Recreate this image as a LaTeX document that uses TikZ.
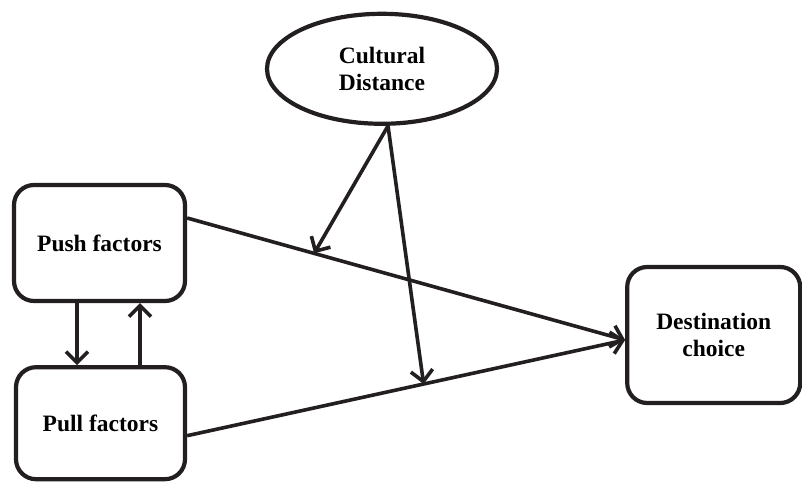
\documentclass[tikz,border=0pt]{standalone}
\usepackage{fontspec}
\setmainfont{Liberation Serif}
\usepackage{tikz}
\usetikzlibrary{arrows.meta,positioning,shapes.geometric}
\definecolor{Ink}{RGB}{35,31,32}
\tikzset{
  factorbox/.style={draw=Ink,line width=4.2pt,rounded corners=20pt,fill=white,align=center,font=\fontsize{23.5}{27}\selectfont\bfseries},
  moderator/.style={factorbox,ellipse,rounded corners=0pt},
  link/.style={-{Straight Barb[length=11pt,width=22pt]},line width=3.6pt,draw=Ink}
}
\begin{document}
\begin{tikzpicture}[node distance=62pt]
\useasboundingbox (0,0) rectangle (802pt,482pt);
\node[factorbox,minimum width=171pt,minimum height=116pt] (push) at (99.5pt,239pt) {Push factors};
\node[factorbox,minimum width=169pt,minimum height=112pt,below=62pt of push,xshift=1pt] (pull) {Pull factors};
\node[factorbox,minimum width=173pt,minimum height=136pt,right=438pt of push,yshift=-92pt] (dest) {Destination\\choice};
\node[moderator,minimum width=230pt,minimum height=110pt,above=57pt of push,xshift=282.5pt] (cd) {Cultural\\Distance};
\draw[link] ([yshift=25pt]push.east) -- coordinate[pos=0.29] (m1) ([yshift=-5pt]dest.west);
\draw[link] ([yshift=-12.5pt]pull.east) -- coordinate[pos=0.54] (m2) ([yshift=-5pt]dest.west);
\draw[link] ([xshift=6pt]cd.south) -- (m1);
\draw[link] ([xshift=6pt]cd.south) -- (m2);
\draw[link] ([xshift=-22.5pt]push.south) -- ([xshift=-23.5pt]pull.north);
\draw[link] ([xshift=39.5pt]pull.north) -- ([xshift=40.5pt]push.south);
\end{tikzpicture}
\end{document}
